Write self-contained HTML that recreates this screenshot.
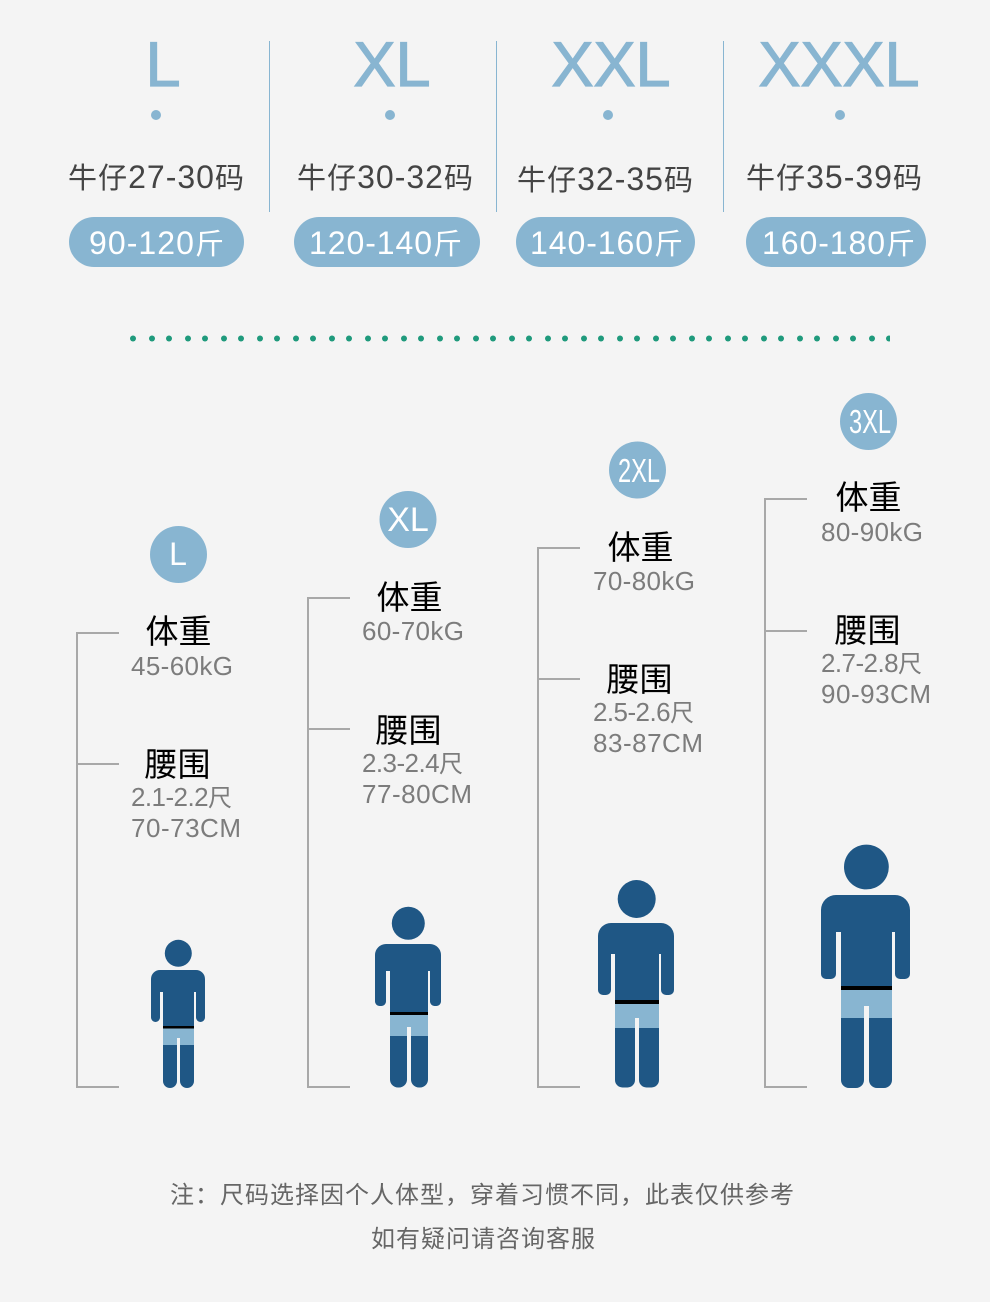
<!DOCTYPE html>
<html><head><meta charset="utf-8"><style>
html,body{margin:0;padding:0;background:#f4f4f4}
svg{display:block}
text{font-family:"Liberation Sans","Noto Sans CJK SC",sans-serif}
.big{font-size:63px;fill:#88b5d1;stroke:#88b5d1;stroke-width:1.2px;text-anchor:middle}
.jean{font-size:29px;fill:#444}
.jean tspan{font-size:32px}
.pill{font-size:29px;fill:#fff}
.pill tspan{font-size:32px}
.h{font-size:33px;fill:#000}
.v{font-size:24px;fill:#7c7c7c}
.v tspan{font-size:26px}
.foot{font-size:24px;fill:#666}
.d{fill:#1f5785}.s{fill:#88b5d1}
</style></head><body>
<svg width="990" height="1302" viewBox="0 0 990 1302" xmlns="http://www.w3.org/2000/svg">
<defs>
<clipPath id="top"><rect x="0" y="41" width="990" height="100"/></clipPath>
<pattern id="dots" patternUnits="userSpaceOnUse" x="130" y="335" width="36" height="7">
<circle cx="3" cy="3.5" r="3" fill="#1f9a7c"/><circle cx="22" cy="3.5" r="3" fill="#1f9a7c"/>
</pattern>
</defs>
<rect width="990" height="1302" fill="#f4f4f4"/>

<g clip-path="url(#top)">
<text class="big" x="163" y="86">L</text>
<text class="big" x="392" y="86">XL</text>
<text class="big" x="611" y="86">XXL</text>
<text class="big" x="839" y="86">XXXL</text>
</g>
<g fill="#88b5d1">
<circle cx="156" cy="115" r="5"/><circle cx="390" cy="115" r="5"/><circle cx="608" cy="115" r="5"/><circle cx="840" cy="115" r="5"/>
<rect x="269" y="41" width="1" height="171"/><rect x="496" y="41" width="1" height="171"/><rect x="723" y="41" width="1" height="171"/>
<rect x="69" y="217" width="175" height="50" rx="25"/><rect x="294" y="217" width="186" height="50" rx="25"/><rect x="516" y="217" width="179" height="50" rx="25"/><rect x="746" y="217" width="180" height="50" rx="25"/>
</g>
<text class="jean" x="68" y="188" textLength="176">牛仔<tspan>27-30</tspan>码</text>
<text class="jean" x="297" y="188" textLength="176">牛仔<tspan>30-32</tspan>码</text>
<text class="jean" x="517" y="190" textLength="176">牛仔<tspan>32-35</tspan>码</text>
<text class="jean" x="746" y="188" textLength="176">牛仔<tspan>35-39</tspan>码</text>
<text class="pill" x="89" y="254" textLength="135"><tspan>90-120</tspan>斤</text>
<text class="pill" x="309" y="254" textLength="153"><tspan>120-140</tspan>斤</text>
<text class="pill" x="530" y="254" textLength="153"><tspan>140-160</tspan>斤</text>
<text class="pill" x="762" y="254" textLength="153"><tspan>160-180</tspan>斤</text>

<rect x="130" y="335" width="760" height="7" fill="url(#dots)"/>

<g fill="none" stroke="#a8a8a8" stroke-width="2">
<path d="M119 633H77V1087H119M77 764H119"/>
<path d="M350 598H308V1087H350M308 729H350"/>
<path d="M580 548H538V1087H580M538 679H580"/>
<path d="M807 499H765V1087H807M765 631H807"/>
</g>

<g fill="#88b5d1">
<circle cx="178.500" cy="554.500" r="28.500"/><circle cx="408" cy="519.500" r="28.500"/><circle cx="637.500" cy="470" r="28.500"/><circle cx="868.500" cy="421.500" r="28.500"/>
</g>
<text x="178" y="565" font-size="32" fill="#fff" text-anchor="middle">L</text>
<text x="408" y="531" font-size="34" fill="#fff" text-anchor="middle">XL</text>
<text x="639" y="482" font-size="33" fill="#fff" text-anchor="middle" textLength="42" lengthAdjust="spacingAndGlyphs">2XL</text>
<text x="870" y="433" font-size="33" fill="#fff" text-anchor="middle" textLength="42" lengthAdjust="spacingAndGlyphs">3XL</text>

<text class="h" x="145.500" y="643">体重</text>
<text class="v" x="131" y="675" textLength="102"><tspan>45-60kG</tspan></text>
<text class="h" x="144.500" y="776">腰围</text>
<text class="v" x="131" y="806" textLength="101"><tspan>2.1-2.2</tspan>尺</text>
<text class="v" x="131" y="837" textLength="110"><tspan>70-73CM</tspan></text>

<text class="h" x="376.500" y="609">体重</text>
<text class="v" x="362" y="640" textLength="102"><tspan>60-70kG</tspan></text>
<text class="h" x="375.500" y="742">腰围</text>
<text class="v" x="362" y="772" textLength="101"><tspan>2.3-2.4</tspan>尺</text>
<text class="v" x="362" y="803" textLength="110"><tspan>77-80CM</tspan></text>

<text class="h" x="607.500" y="559">体重</text>
<text class="v" x="593" y="590" textLength="102"><tspan>70-80kG</tspan></text>
<text class="h" x="606.500" y="691">腰围</text>
<text class="v" x="593" y="721" textLength="101"><tspan>2.5-2.6</tspan>尺</text>
<text class="v" x="593" y="752" textLength="110"><tspan>83-87CM</tspan></text>

<text class="h" x="835.500" y="509">体重</text>
<text class="v" x="821" y="541" textLength="102"><tspan>80-90kG</tspan></text>
<text class="h" x="834.500" y="642">腰围</text>
<text class="v" x="821" y="672" textLength="101"><tspan>2.7-2.8</tspan>尺</text>
<text class="v" x="821" y="703" textLength="110"><tspan>90-93CM</tspan></text>

<!-- figure 1 -->
<circle class="d" cx="178.300" cy="953.300" r="13.500"/>
<path class="d" d="M160 970H196A9 9 0 0 1 205 979V1017.500A4.500 4.500 0 0 1 196 1017.500V992H194V1026H163V992H160V1017.500A4.500 4.500 0 0 1 151 1017.500V979A9 9 0 0 1 160 970Z"/>
<rect x="163" y="1026" width="31" height="2.500" fill="#000"/>
<path class="s" d="M163 1028.500H194V1045H180V1038H177V1045H163Z"/>
<path class="d" d="M163 1045H177V1081A7 7 0 0 1 163 1081ZM180 1045H194V1081A7 7 0 0 1 180 1081Z"/>
<!-- figure 2 -->
<circle class="d" cx="408.300" cy="923.300" r="16.500"/>
<path class="d" d="M386 944H430A11 11 0 0 1 441 955V1001.500A4.500 4.500 0 0 1 436.500 1006H434.500A4.500 4.500 0 0 1 430 1001.500V971H428V1012H390V971H386V1001.500A4.500 4.500 0 0 1 381.500 1006H379.500A4.500 4.500 0 0 1 375 1001.500V955A11 11 0 0 1 386 944Z"/>
<rect x="390" y="1012" width="38" height="3" fill="#000"/>
<path class="s" d="M390 1015H428V1036H411V1027H407V1036H390Z"/>
<path class="d" d="M390 1036H407V1079.500A8 8 0 0 1 399 1087.500H398A8 8 0 0 1 390 1079.500ZM411 1036H428V1079.500A8 8 0 0 1 420 1087.500H419A8 8 0 0 1 411 1079.500Z"/>
<!-- figure 3 -->
<circle class="d" cx="636.700" cy="899" r="19"/>
<path class="d" d="M611 923H661A13 13 0 0 1 674 936V990A5 5 0 0 1 669 995H666A5 5 0 0 1 661 990V954H659V1000H615V954H611V990A5 5 0 0 1 606 995H603A5 5 0 0 1 598 990V936A13 13 0 0 1 611 923Z"/>
<rect x="615" y="1000" width="44" height="4" fill="#000"/>
<path class="s" d="M615 1004H659V1028H639V1018H635V1028H615Z"/>
<path class="d" d="M615 1028H635V1080A7.500 7.500 0 0 1 627.500 1087.500H622.500A7.500 7.500 0 0 1 615 1080ZM639 1028H659V1080A7.500 7.500 0 0 1 651.500 1087.500H646.500A7.500 7.500 0 0 1 639 1080Z"/>
<!-- figure 4 -->
<circle class="d" cx="866.400" cy="867" r="22.400"/>
<path class="d" d="M836 895H895A15 15 0 0 1 910 910V974A5 5 0 0 1 905 979H900A5 5 0 0 1 895 974V932H892V986H841V932H836V974A5 5 0 0 1 831 979H826A5 5 0 0 1 821 974V910A15 15 0 0 1 836 895Z"/>
<rect x="841" y="986" width="51" height="4" fill="#000"/>
<path class="s" d="M841 990H892V1018H869V1006H864V1018H841Z"/>
<path class="d" d="M841 1018H864V1080A8 8 0 0 1 856 1088H849A8 8 0 0 1 841 1080ZM869 1018H892V1080A8 8 0 0 1 884 1088H877A8 8 0 0 1 869 1080Z"/>

<text class="foot" x="170" y="1203" textLength="624">注：尺码选择因个人体型，穿着习惯不同，此表仅供参考</text>
<text class="foot" x="371" y="1247" textLength="224">如有疑问请咨询客服</text>
</svg>
</body></html>
